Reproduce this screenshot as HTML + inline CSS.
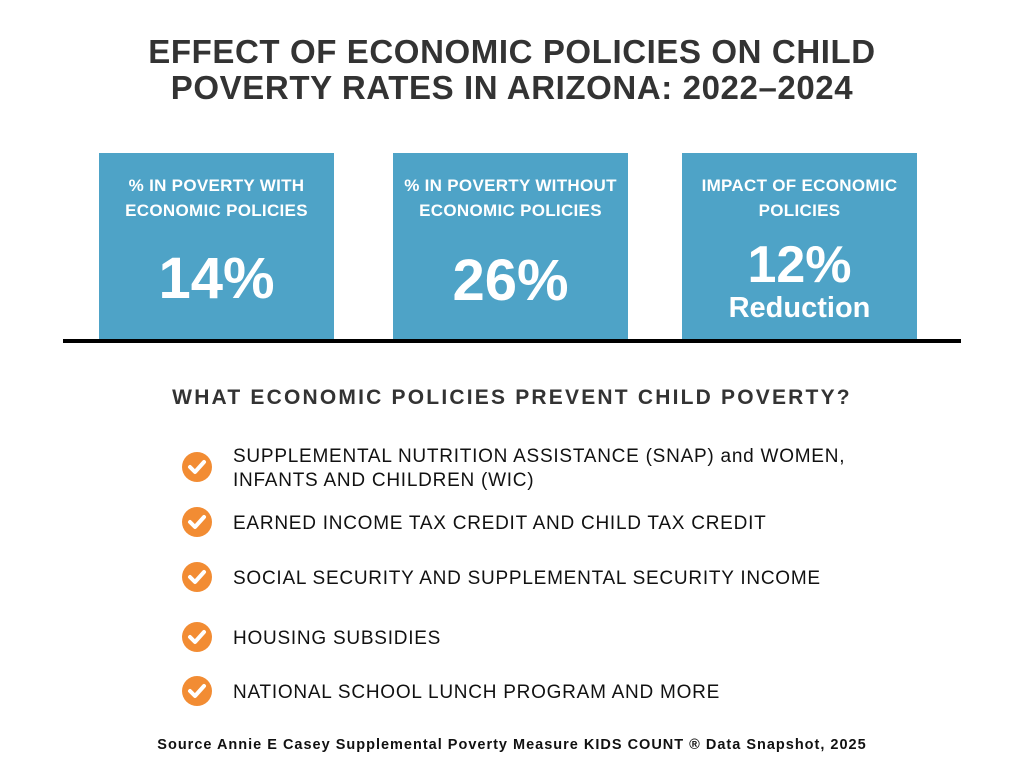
<!DOCTYPE html>
<html><head><style>
body{margin:0;width:1024px;height:768px;background:#fff;font-family:"Liberation Sans",sans-serif;position:relative;overflow:hidden;color:#222}
.t{position:absolute;left:0;width:1024px;text-align:center;font-weight:bold;font-size:33px;color:#333;line-height:36px;top:34px;letter-spacing:0.6px}
.box{position:absolute;top:153px;height:186px;background:#4ea3c7;color:#fff;text-align:center;font-weight:bold}
.box .h{position:absolute;top:20px;left:0;right:0;font-size:17px;line-height:25px;letter-spacing:0.3px}
.box .n{position:absolute;left:0;right:0;font-size:58px;line-height:60px}
.line{position:absolute;left:63px;top:339px;width:898px;height:4px;background:#000}
.q{position:absolute;top:386px;left:0;width:1024px;text-align:center;font-weight:bold;font-size:21px;color:#333;letter-spacing:2.2px}
.it{position:absolute;left:233px;font-size:19px;line-height:24px;color:#111;letter-spacing:0.75px}
.c{position:absolute;left:182px;width:30px;height:30px;border-radius:50%;background:#f28c33}
.c svg{position:absolute;left:0;top:0}
.src{position:absolute;top:737px;left:0;width:1024px;text-align:center;font-size:14.5px;font-weight:bold;color:#111;letter-spacing:1px}
</style></head><body>
<div class="t">EFFECT OF ECONOMIC POLICIES ON CHILD<br>POVERTY RATES IN ARIZONA: 2022–2024</div>
<div class="box" style="left:99px;width:235px"><div class="h">% IN POVERTY WITH<br>ECONOMIC POLICIES</div><div class="n" style="top:96px">14%</div></div>
<div class="box" style="left:393px;width:235px"><div class="h">% IN POVERTY WITHOUT<br>ECONOMIC POLICIES</div><div class="n" style="top:98px">26%</div></div>
<div class="box" style="left:682px;width:235px"><div class="h">IMPACT OF ECONOMIC<br>POLICIES</div><div class="n" style="top:82px;font-size:52px">12%</div><div class="n" style="top:139px;font-size:29px;line-height:32px">Reduction</div></div>
<div class="line"></div>
<div class="q">WHAT ECONOMIC POLICIES PREVENT CHILD POVERTY?</div>
<div class="c" style="top:452px"><svg width="30" height="30"><path d="M8 15l5 5 9-10" stroke="#fff" stroke-width="4" fill="none" stroke-linecap="round" stroke-linejoin="round"/></svg></div>
<div class="it" style="top:445px">SUPPLEMENTAL NUTRITION ASSISTANCE (SNAP) and WOMEN,<br>INFANTS AND CHILDREN (WIC)</div>
<div class="c" style="top:507px"><svg width="30" height="30"><path d="M8 15l5 5 9-10" stroke="#fff" stroke-width="4" fill="none" stroke-linecap="round" stroke-linejoin="round"/></svg></div>
<div class="it" style="top:512px">EARNED INCOME TAX CREDIT AND CHILD TAX CREDIT</div>
<div class="c" style="top:562px"><svg width="30" height="30"><path d="M8 15l5 5 9-10" stroke="#fff" stroke-width="4" fill="none" stroke-linecap="round" stroke-linejoin="round"/></svg></div>
<div class="it" style="top:567px">SOCIAL SECURITY AND SUPPLEMENTAL SECURITY INCOME</div>
<div class="c" style="top:622px"><svg width="30" height="30"><path d="M8 15l5 5 9-10" stroke="#fff" stroke-width="4" fill="none" stroke-linecap="round" stroke-linejoin="round"/></svg></div>
<div class="it" style="top:627px">HOUSING SUBSIDIES</div>
<div class="c" style="top:676px"><svg width="30" height="30"><path d="M8 15l5 5 9-10" stroke="#fff" stroke-width="4" fill="none" stroke-linecap="round" stroke-linejoin="round"/></svg></div>
<div class="it" style="top:681px">NATIONAL SCHOOL LUNCH PROGRAM AND MORE</div>
<div class="src">Source Annie E Casey Supplemental Poverty Measure KIDS COUNT ® Data Snapshot, 2025</div>
</body></html>
